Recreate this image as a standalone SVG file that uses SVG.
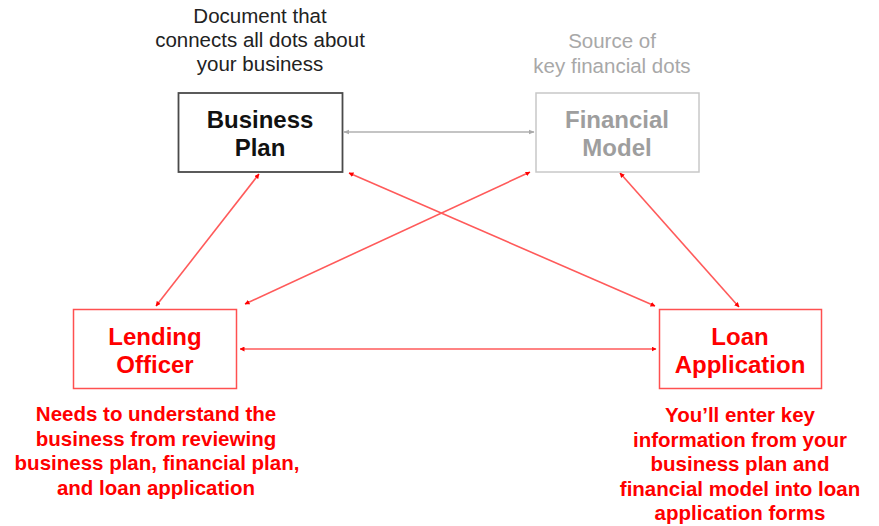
<svg xmlns="http://www.w3.org/2000/svg" width="879" height="526" viewBox="0 0 879 526">
<defs>
<style>
text{font-family:"Liberation Sans",Arial,sans-serif;text-anchor:middle}
.note{font-size:20.5px}
.title{font-size:24px;font-weight:bold}
.red{fill:#ff0000}
.rnote{font-size:20.5px;font-weight:bold;fill:#ff0000}
.conn{stroke:#ff5a5a;stroke-width:1.6;fill:none;marker-start:url(#ra);marker-end:url(#ra)}
</style>
<marker id="ra" viewBox="0 0 10 10" refX="9" refY="5" markerWidth="5" markerHeight="5" orient="auto-start-reverse" markerUnits="userSpaceOnUse"><path d="M0,0 L10,5 L0,10 z" fill="#ff0000"/></marker>
<marker id="ga" viewBox="0 0 10 10" refX="9" refY="5" markerWidth="6" markerHeight="6" orient="auto-start-reverse" markerUnits="userSpaceOnUse"><path d="M0,1 L10,5 L0,9 z" fill="#aaaaaa"/></marker>
</defs>
<rect width="879" height="526" fill="#ffffff"/>

<g id="connectors">
<line x1="344" y1="132" x2="534" y2="132" stroke="#b0b0b0" stroke-width="1.6" marker-start="url(#ga)" marker-end="url(#ga)"/>
<line class="conn" x1="259" y1="174" x2="156" y2="306"/>
<line class="conn" x1="349" y1="173" x2="655" y2="306"/>
<line class="conn" x1="530" y1="172" x2="245" y2="304"/>
<line class="conn" x1="620" y1="173" x2="739" y2="307"/>
<line class="conn" x1="240" y1="349" x2="656" y2="349"/>
</g>

<g id="business-plan">
<rect x="178.5" y="93" width="164" height="79" fill="#ffffff" stroke="#4a4a4a" stroke-width="1.8"/>
<text class="title" x="260" y="128" fill="#111111">Business</text>
<text class="title" x="260" y="156" fill="#111111">Plan</text>
<text class="note" x="260" y="23" fill="#222222">Document that</text>
<text class="note" x="260" y="47" fill="#222222">connects all dots about</text>
<text class="note" x="260" y="71" fill="#222222">your business</text>
</g>

<g id="financial-model">
<rect x="536" y="93" width="163" height="79" fill="#ffffff" stroke="#c8c8c8" stroke-width="1.5"/>
<text class="title" x="617" y="128" fill="#9e9e9e">Financial</text>
<text class="title" x="617" y="156" fill="#9e9e9e">Model</text>
<text class="note" x="612" y="48" fill="#a8a8a8">Source of</text>
<text class="note" x="612" y="73" fill="#a8a8a8">key financial dots</text>
</g>

<g id="lending-officer">
<rect x="73.5" y="309.5" width="163" height="79" fill="#ffffff" stroke="#ff5050" stroke-width="1.5"/>
<text class="title red" x="155" y="345">Lending</text>
<text class="title red" x="155" y="373">Officer</text>
<text class="rnote" x="156" y="421">Needs to understand the</text>
<text class="rnote" x="156" y="446">business from reviewing</text>
<text class="rnote" x="157" y="470">business plan, financial plan,</text>
<text class="rnote" x="156" y="495">and loan application</text>
</g>

<g id="loan-application">
<rect x="659.5" y="309.5" width="162" height="79" fill="#ffffff" stroke="#ff5050" stroke-width="1.5"/>
<text class="title red" x="740" y="345">Loan</text>
<text class="title red" x="740" y="373">Application</text>
<text class="rnote" x="740" y="422">You’ll enter key</text>
<text class="rnote" x="740" y="447">information from your</text>
<text class="rnote" x="740" y="471">business plan and</text>
<text class="rnote" x="740" y="496">financial model into loan</text>
<text class="rnote" x="740" y="520">application forms</text>
</g>
</svg>
